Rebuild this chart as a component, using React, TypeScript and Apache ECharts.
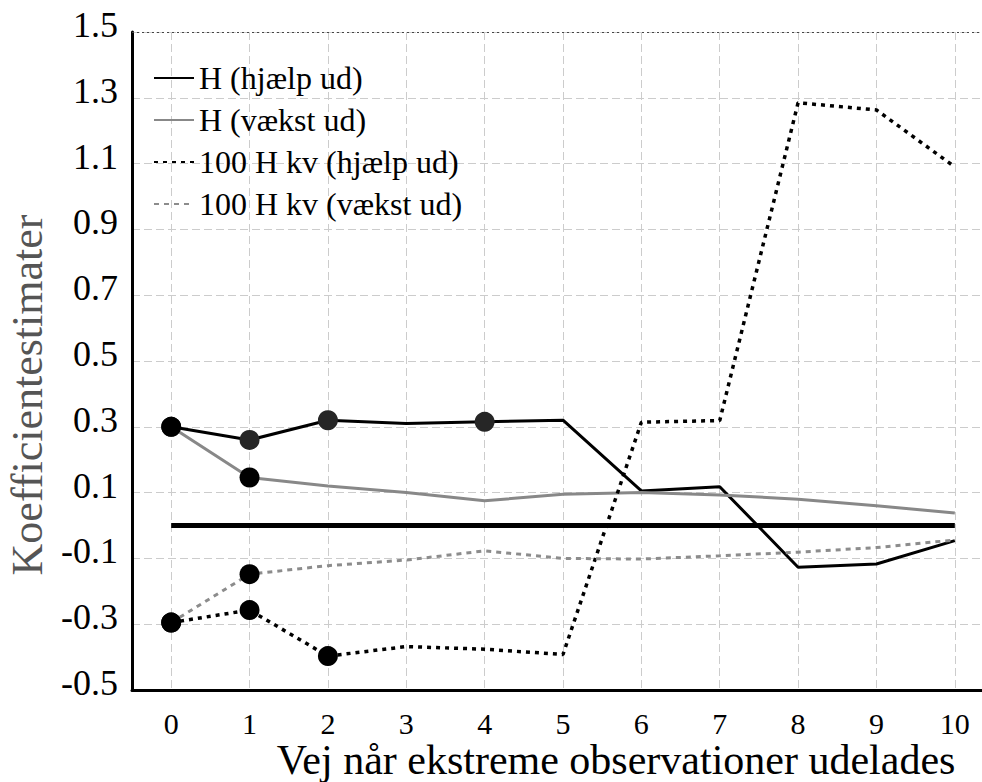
import React, { useEffect, useRef } from "react";
import * as echarts from "echarts";

const steps = [0, 1, 2, 3, 4, 5, 6, 7, 8, 9, 10];
const hHjaelp = [0.3, 0.26, 0.32, 0.31, 0.315, 0.32, 0.105, 0.118, -0.127, -0.117, -0.046];
const hVaekst = [0.3, 0.146, 0.12, 0.1, 0.075, 0.095, 0.1, 0.093, 0.08, 0.06, 0.038];
const hkvHjaelp = [-0.295, -0.257, -0.397, -0.368, -0.376, -0.392, 0.314, 0.319, 1.285, 1.263, 1.09];
const hkvVaekst = [-0.295, -0.148, -0.122, -0.105, -0.077, -0.1, -0.102, -0.092, -0.081, -0.067, -0.044];
const baseline = [0, 0, 0, 0, 0, 0, 0, 0, 0, 0, 0];

const marksHHjaelp = [1, 2, 4, 0];
const marksHVaekst = [0, 1];
const marksHkvHjaelp = [1, 2, 0];
const marksHkvVaekst = [0, 1];

const seriesNames = ["H (hjælp ud)", "H (vækst ud)", "100 H kv (hjælp ud)", "100 H kv (vækst ud)"];
const yTickValues = [-0.5, -0.3, -0.1, 0.1, 0.3, 0.5, 0.7, 0.9, 1.1, 1.3, 1.5];
const xTitle = "Vej når ekstreme observationer udelades";
const yTitle = "Koefficientestimater";

const FONT = "Liberation Serif, serif";

function pairs(vals: number[]) {
  return steps.map((s, i) => [s, vals[i]]);
}
function markPairs(vals: number[], idx: number[]) {
  return idx.map((i) => [steps[i], vals[i]]);
}

export default function App() {
  const ref = useRef<HTMLDivElement>(null);
  useEffect(() => {
    if (!ref.current) return;
    const chart = echarts.init(ref.current, null, { renderer: "svg" });
    const yMin = yTickValues[0];
    const yMax = yTickValues[yTickValues.length - 1];
    const yHalf = (yTickValues[1] - yTickValues[0]) / 2;
    const gridColor = "#cccccc";
    chart.setOption({
      animation: false,
      backgroundColor: "#ffffff",
      grid: { left: 132, top: 32, width: 862, bottom: 92, containLabel: false },
      legend: {
        orient: "vertical",
        left: 148,
        top: 55,
        itemWidth: 40,
        itemHeight: 14,
        itemGap: 6,
        data: seriesNames,
        itemStyle: { opacity: 0 },
        textStyle: { fontFamily: FONT, fontSize: 32, color: "#000", lineHeight: 36 },
      },
      xAxis: {
        type: "value",
        min: -0.5,
        max: 10.5,
        interval: 0.5,
        axisLine: { show: true, onZero: false, lineStyle: { color: "#000", width: 3 } },
        axisTick: { show: false },
        splitLine: { show: true, lineStyle: { color: ["rgba(0,0,0,0)", gridColor], width: 1, type: [8, 4] } },
        axisLabel: {
          showMinLabel: false,
          showMaxLabel: false,
          margin: 18,
          fontFamily: FONT,
          fontSize: 30,
          color: "#000",
          formatter: (v: number) => (Math.abs(v - Math.round(v)) < 1e-6 ? String(Math.round(v)) : ""),
        },
      },
      yAxis: {
        type: "value",
        min: yMin,
        max: yMax,
        interval: yHalf,
        axisLine: { show: true, onZero: false, lineStyle: { color: "#000", width: 3 } },
        axisTick: { show: false },
        splitLine: { show: true, lineStyle: { color: [gridColor, "rgba(0,0,0,0)"], width: 1, type: [8, 4] } },
        axisLabel: {
          margin: 14,
          fontFamily: FONT,
          fontSize: 36,
          color: "#000",
          verticalAlign: "bottom",
          lineHeight: 14,
          formatter: (v: number) => {
            const k = Math.round((v - yMin) / yHalf);
            return k % 2 === 0 ? v.toFixed(1) : "";
          },
        },
      },
      graphic: [
        {
          type: "text",
          x: 616,
          y: 760,
          style: { text: xTitle, fontFamily: FONT, fontSize: 42, fill: "#000", textAlign: "center", textVerticalAlign: "middle" },
        },
        {
          type: "text",
          x: 27,
          y: 395,
          rotation: Math.PI / 2,
          style: { text: yTitle, fontFamily: FONT, fontSize: 44, fill: "#555", textAlign: "center", textVerticalAlign: "middle" },
        },
      ],
      series: [
        {
          name: "baseline",
          type: "line",
          data: pairs(baseline),
          symbol: "none",
          lineStyle: { color: "#000", width: 5 },
          markLine: {
            silent: true,
            symbol: "none",
            label: { show: false },
            lineStyle: { color: "#444", width: 1, type: [2, 3] },
            data: [{ yAxis: yMax }],
          },
          z: 2,
        },
        {
          name: seriesNames[0],
          type: "line",
          data: pairs(hHjaelp),
          symbol: "none",
          color: "#000",
          lineStyle: { color: "#000", width: 3 },
          z: 3,
        },
        {
          name: seriesNames[1],
          type: "line",
          data: pairs(hVaekst),
          symbol: "none",
          color: "#888",
          lineStyle: { color: "#888", width: 3 },
          z: 3,
        },
        {
          name: seriesNames[2],
          type: "line",
          data: pairs(hkvHjaelp),
          symbol: "none",
          color: "#000",
          lineStyle: { color: "#000", width: 3.5, type: [4, 5] },
          z: 3,
        },
        {
          name: seriesNames[3],
          type: "line",
          data: pairs(hkvVaekst),
          symbol: "none",
          color: "#8c8c8c",
          lineStyle: { color: "#8c8c8c", width: 3, type: [5, 5] },
          z: 3,
        },
        {
          type: "scatter",
          data: markPairs(hHjaelp, marksHHjaelp),
          symbolSize: 20,
          itemStyle: { color: "#262626", opacity: 1 },
          z: 4,
        },
        {
          type: "scatter",
          data: markPairs(hVaekst, marksHVaekst),
          symbolSize: 20,
          itemStyle: { color: "#000", opacity: 1 },
          z: 5,
        },
        {
          type: "scatter",
          data: markPairs(hkvHjaelp, marksHkvHjaelp),
          symbolSize: 20,
          itemStyle: { color: "#000", opacity: 1 },
          z: 4,
        },
        {
          type: "scatter",
          data: markPairs(hkvVaekst, marksHkvVaekst),
          symbolSize: 20,
          itemStyle: { color: "#000", opacity: 1 },
          z: 5,
        },
      ],
    });
    return () => chart.dispose();
  }, []);
  return (
    <div style={{ position: "fixed", left: 0, top: 0, width: 982, height: 782, overflow: "hidden" }}>
      <div ref={ref} style={{ width: 1000, height: 782 }} />
    </div>
  );
}
